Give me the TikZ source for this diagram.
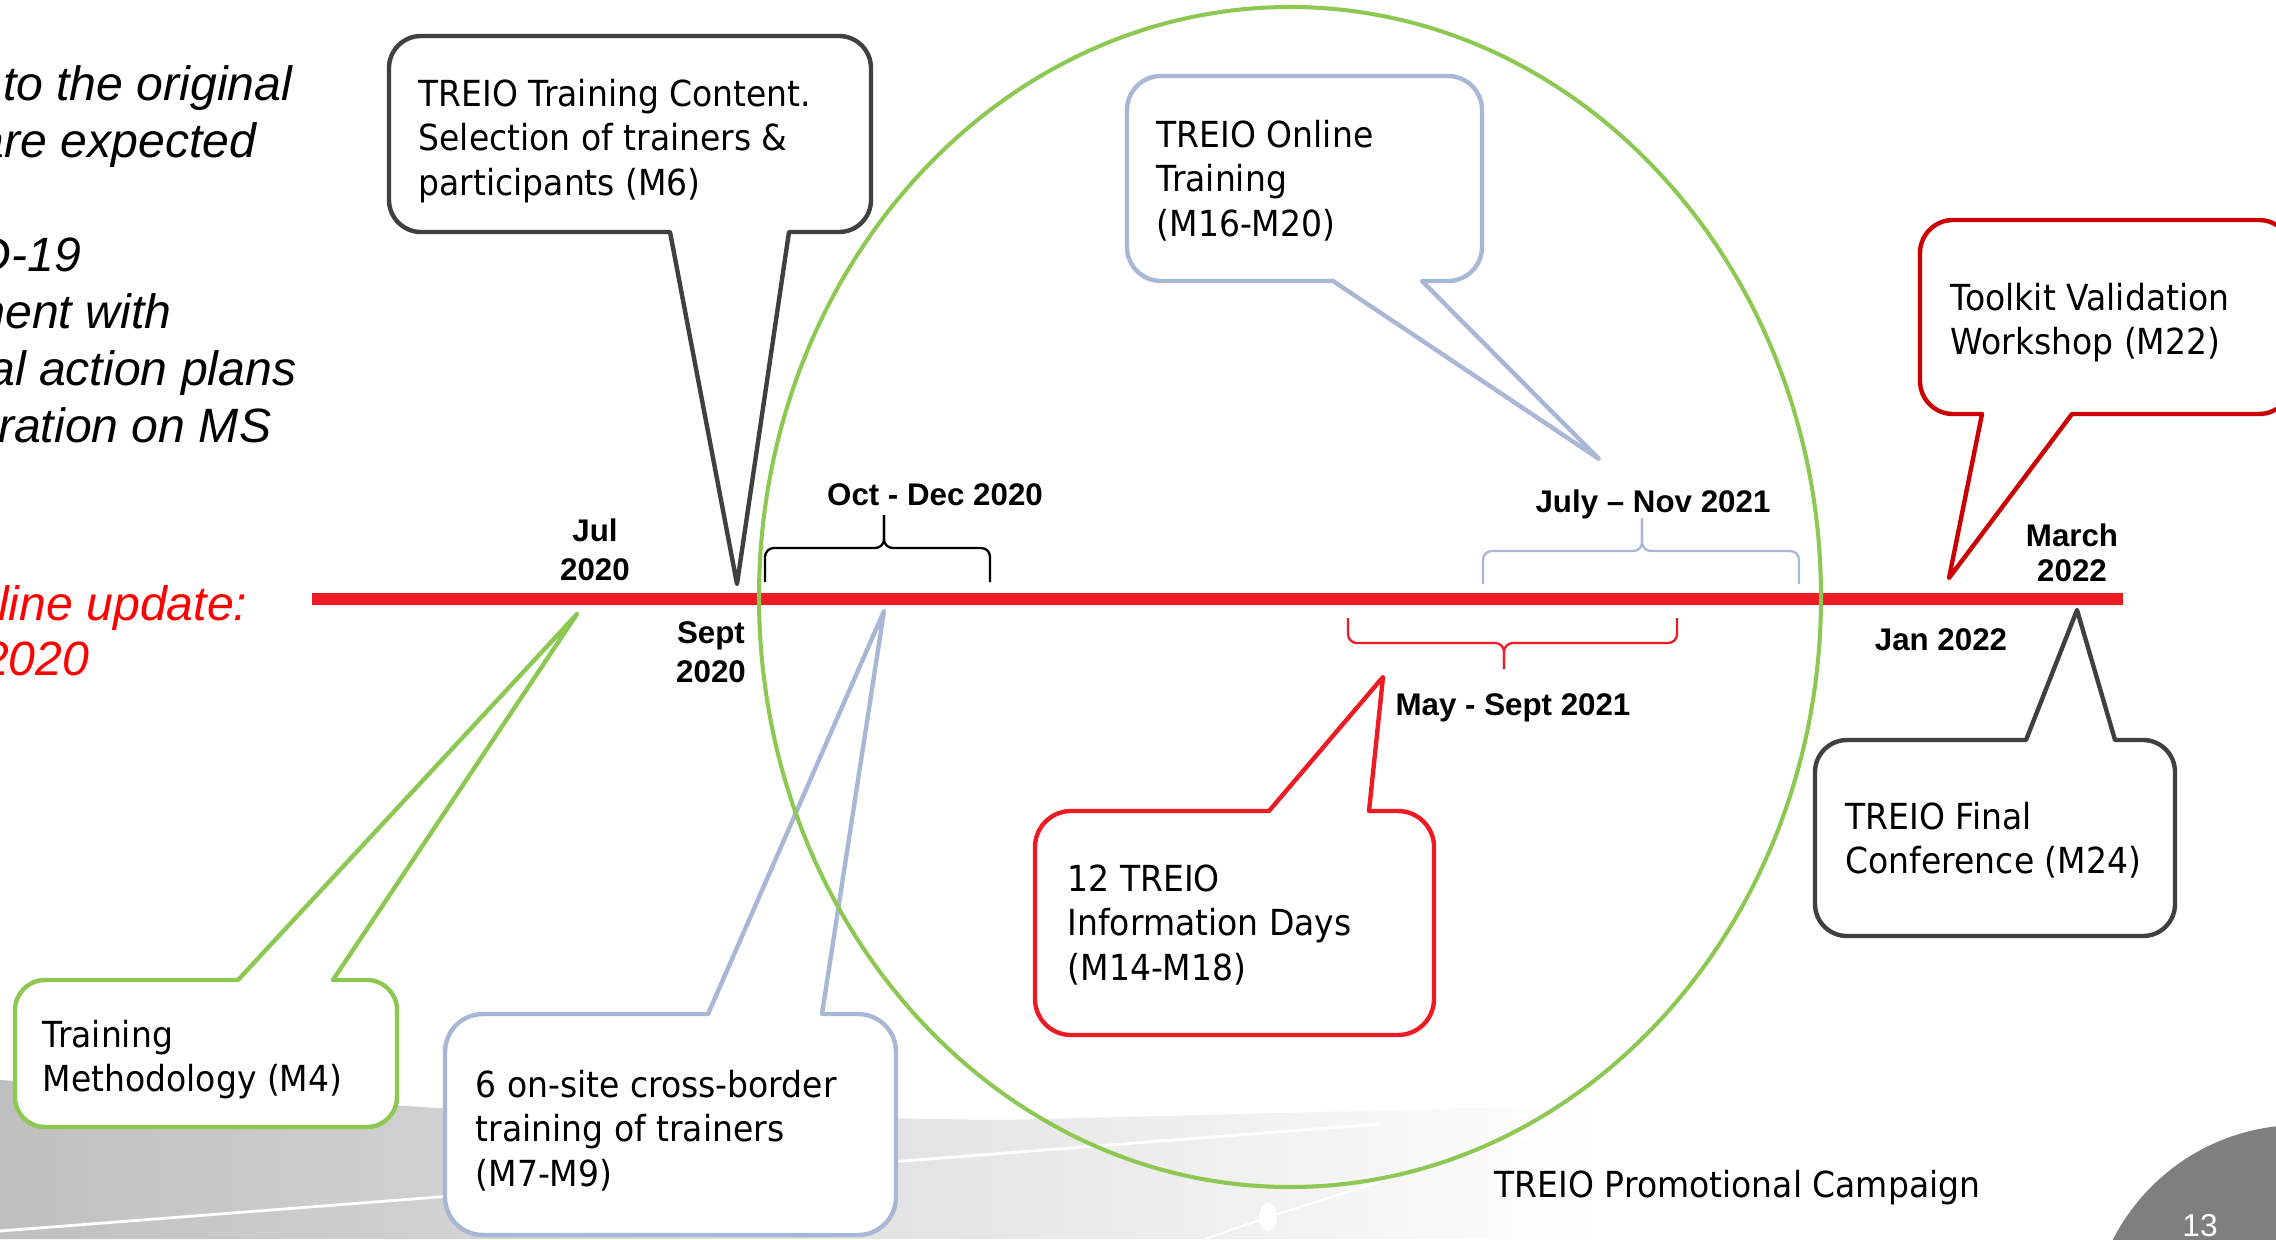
\documentclass[tikz,border=0pt]{standalone}
\usepackage{fontspec}
\setmainfont{Liberation Sans}
\newfontfamily\callfont[FakeStretch=0.92]{DejaVu Sans}
\definecolor{tlred}{RGB}{237,28,36}
\definecolor{dkred}{RGB}{204,0,0}
\definecolor{cgray}{RGB}{64,64,64}
\definecolor{cblue}{RGB}{169,183,214}
\definecolor{cgreen}{RGB}{140,200,82}
\definecolor{pgnum}{RGB}{127,127,127}
\definecolor{txtred}{RGB}{255,0,0}
% callout with tail on the bottom edge: style, x1, y1, x2, y2, r, tail a, tail b, tip
\newcommand{\calloutB}[9]{\draw[#1] (#2,#3+#6) arc[start angle=180,end angle=270,radius=#6] -- (#4-#6,#3) arc[start angle=270,end angle=360,radius=#6] -- (#4,#5-#6) arc[start angle=0,end angle=90,radius=#6] -- (#8,#5) -- (#9) -- (#7,#5) -- (#2+#6,#5) arc[start angle=90,end angle=180,radius=#6] -- cycle;}
% callout with tail on the top edge
\newcommand{\calloutT}[9]{\draw[#1] (#2,#3+#6) arc[start angle=180,end angle=270,radius=#6] -- (#7,#3) -- (#9) -- (#8,#3) -- (#4-#6,#3) arc[start angle=270,end angle=360,radius=#6] -- (#4,#5-#6) arc[start angle=0,end angle=90,radius=#6] -- (#2+#6,#5) arc[start angle=90,end angle=180,radius=#6] -- cycle;}
\begin{document}
\begin{tikzpicture}[x=0.01cm,y=-0.01cm,
  callt/.style={font=\callfont\fontsize{10.2}{12.7}\selectfont, inner sep=0pt, anchor=base west},
  datet/.style={font=\fontsize{8.9}{11.1}\selectfont\bfseries, inner sep=0pt, anchor=base},
  leftt/.style={font=\fontsize{13.7}{16}\selectfont\itshape, inner sep=0pt, anchor=base east},
  cbox/.style={line width=1.25pt, fill=white, line join=round},
  bracel/.style={line width=0.65pt, rounded corners=2.5pt},
]
\useasboundingbox (0,0) rectangle (2276,1239);
\fill[white] (0,0) rectangle (2276,1239);
% background decoration
\shade[left color=black!25, right color=white] (0,1080) -- (500,1112) -- (1000,1120) -- (1600,1105) -- (1600,1239) -- (0,1239) -- cycle;
\draw[white, line width=0.8pt] (0,1231) -- (1380,1124);
\draw[white, line width=0.6pt] (1205,1239) -- (1268,1217) -- (1560,1125);
\fill[white] (1268,1217) ellipse [x radius=9, y radius=14];
\fill[pgnum] (2300,1335) circle [radius=210];
\node[font=\fontsize{9}{11}\selectfont, text=white, inner sep=0pt, anchor=base] (pg) at (2200,1236) {13};

% timeline
\coordinate (tlA) at (312,599);
\coordinate (tlB) at (2123,599);
\draw[tlred, line width=3.4pt] (tlA) -- (tlB);

% braces
\draw[bracel, black] (765,582) -- (765,548) -- (884,548) -- (884,515);
\draw[bracel, black] (990,582) -- (990,548) -- (884,548) -- (884,515);
\draw[bracel, cblue] (1483,584) -- (1483,551) -- (1642,551) -- (1642,518);
\draw[bracel, cblue] (1799,584) -- (1799,551) -- (1642,551) -- (1642,518);
\draw[bracel, tlred] (1348,618) -- (1348,643) -- (1504,643) -- (1504,669);
\draw[bracel, tlred] (1677,618) -- (1677,643) -- (1504,643) -- (1504,669);

% callouts
\calloutB{cbox,draw=cgray}{389}{36}{871}{232}{32}{670}{789}{737,584}
\calloutT{cbox,draw=cgreen}{15}{980}{397}{1127}{30}{238}{333}{577,614}
\calloutT{cbox,draw=cblue}{445}{1014}{896}{1235}{38}{708}{822}{884,611}
\calloutB{cbox,draw=cblue}{1127}{76}{1482}{281}{34}{1333}{1422}{1599,459}
\calloutB{cbox,draw=dkred}{1920}{220}{2292}{414}{33}{1982}{2072}{1949,578}
\calloutT{cbox,draw=cgray}{1815}{740}{2175}{936}{32}{2026}{2115}{2077,610}
\calloutT{cbox,draw=tlred}{1035}{811}{1434}{1035}{36}{1269}{1369}{1383,677}

% promotional campaign ellipse
\draw[cgreen, line width=1.15pt] (1290,597) ellipse [x radius=531, y radius=590];

% callout texts
\node[callt] (c1t) at (418,106) {\begin{tabular}[t]{@{}l@{}}TREIO Training Content.\\Selection of trainers \&\\participants (M6)\end{tabular}};
\node[callt] (c2t) at (42,1047) {\begin{tabular}[t]{@{}l@{}}Training\\Methodology (M4)\end{tabular}};
\node[callt] (c3t) at (475,1097) {\begin{tabular}[t]{@{}l@{}}6 on-site cross-border\\training of trainers\\(M7-M9)\end{tabular}};
\node[callt] (c4t) at (1156,147) {\begin{tabular}[t]{@{}l@{}}TREIO Online\\Training\\(M16-M20)\end{tabular}};
\node[callt] (c5t) at (1950,310) {\begin{tabular}[t]{@{}l@{}}Toolkit Validation\\Workshop (M22)\end{tabular}};
\node[callt] (c6t) at (1845,829) {\begin{tabular}[t]{@{}l@{}}TREIO Final\\Conference (M24)\end{tabular}};
\node[callt] (c7t) at (1067,891) {\begin{tabular}[t]{@{}l@{}}12 TREIO\\Information Days\\(M14-M18)\end{tabular}};
\node[callt] (promo) at (1494,1197) {TREIO Promotional Campaign};

% date labels
\node[datet] (djul) at (595,541) {\begin{tabular}[t]{@{}c@{}}Jul\\2020\end{tabular}};
\node[datet] (dsep) at (711,643) {\begin{tabular}[t]{@{}c@{}}Sept\\2020\end{tabular}};
\node[datet] (doct) at (935,505) {Oct - Dec 2020};
\node[datet] (djuly) at (1653,512) {July – Nov 2021};
\node[datet] (dmay) at (1513,715) {May - Sept 2021};
\node[datet] (dmar) at (2072,546) {\begin{tabular}[t]{@{}c@{}}March\\[-0.9pt]2022\end{tabular}};
\node[datet] (djan) at (1941,650) {Jan 2022};

% left-hand text (cut by the page edge, as in the slide)
\node[leftt] (l1) at (293,100) {to the original};
\node[leftt] (l2) at (257,157) {are expected};
\node[leftt] (l3) at (82,271) {D-19};
\node[leftt] (l4) at (172,328) {ment with};
\node[leftt] (l5) at (297,385) {al action plans};
\node[leftt] (l6) at (272,442) {eration on MS};
\node[leftt, text=txtred] (l7) at (248,620) {eline update:};
\node[leftt, text=txtred] (l8) at (90,675) {2020};
\end{tikzpicture}
\end{document}
